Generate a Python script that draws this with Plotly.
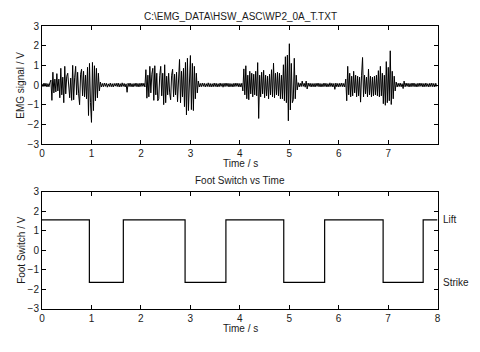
import plotly.graph_objects as go

# ---------------- data ----------------
SAMPLE_STEP = 0.02  # seconds per EMG sample

emg_values = [
    # 0.00 - 0.48
    0.06, -0.08, 0.10, -0.07, 0.09, -0.10, 0.07, -0.09, 0.12, 0.25, -0.78, 0.65, -0.40,
    0.30, -0.35, 0.58, -0.30, 0.30, -0.65, 0.85, -0.50, 0.40, -0.90, 0.95, -0.45,
    # 0.50 - 0.98
    0.45, 0.60, -0.40, -0.65, 0.35, -0.78, 1.00, -0.75, 0.40, 0.95, -0.50, 0.65, -0.45,
    -1.00, 0.55, 0.80, -0.55, 0.70, -0.60, 0.50, -0.70, 0.90, -1.55, 1.10, -0.90,
    # 1.00 - 1.48
    -1.90, 1.15, -1.30, 0.98, -0.80, 0.85, -0.65, 0.60, -0.30, 0.15, -0.10, 0.08, -0.09,
    0.10, -0.07, 0.09, -0.11, 0.06, -0.08, 0.10, -0.09, 0.07, -0.10, 0.08, -0.06,
    # 1.50 - 1.98
    0.09, -0.08, 0.10, -0.10, 0.07, -0.09, 0.11, -0.07, 0.08, -0.10, 0.06, -0.37, 0.09,
    -0.08, 0.10, -0.09, 0.07, -0.10, 0.08, -0.07, 0.10, -0.09, 0.08, -0.10, 0.09,
    # 2.00 - 2.48
    -0.08, 0.10, -0.07, 0.09, -0.10, 0.78, -0.67, 0.50, -0.60, 0.95, -0.40, 0.55, 0.85,
    -0.78, 0.98, -0.50, 0.60, -0.80, -0.70, 0.50, 0.95, -0.55, 0.60, -1.00, 1.03,
    # 2.50 - 2.98
    -0.90, 0.45, -0.50, 0.60, -0.40, -0.75, 0.50, 0.80, -0.60, 0.55, -0.50, 0.65, -0.85,
    0.60, 1.30, -0.90, 0.70, -0.60, 0.85, -1.10, 1.15, -1.52, 1.36, -1.30, 0.90,
    # 3.00 - 3.48
    1.50, -1.25, 1.10, -1.30, 0.95, -0.70, 0.60, -0.40, 0.20, -0.10, 0.08, -0.09, 0.10,
    -0.07, 0.09, -0.10, 0.07, -0.08, 0.11, -0.09, 0.08, -0.10, 0.07, -0.09, 0.10,
    # 3.50 - 3.98
    -0.08, 0.09, -0.10, 0.07, -0.09, 0.10, -0.07, 0.08, -0.11, 0.09, -0.08, 0.10, -0.07,
    0.09, -0.10, 0.08, -0.09, 0.07, -0.10, 0.09, -0.08, 0.10, -0.07, 0.09, -0.10,
    # 4.00 - 4.48
    0.08, -0.10, 0.09, -0.30, 0.82, -0.50, 0.98, -0.70, 0.50, -0.75, 0.70, -0.45, 0.60,
    -0.60, 0.55, -0.50, 0.70, -0.55, 1.14, -1.70, 0.50, -0.60, 0.65, -0.45, 0.75,
    # 4.50 - 4.98
    -0.65, 0.50, -0.55, 0.45, -0.70, 0.55, -0.50, 0.78, -0.60, 1.11, -0.65, 0.60, -0.50,
    0.65, -0.55, 0.60, -0.70, 0.50, -0.70, 1.03, -0.80, 1.44, -0.90, 1.52, -1.82,
    # 5.00 - 5.48
    2.10, -1.27, 1.10, -0.90, -0.75, 1.36, -0.70, 0.50, -0.25, 0.12, -0.10, 0.09, -0.08,
    0.20, -0.07, 0.09, -0.11, 0.20, -0.20, 0.10, -0.07, 0.09, -0.10, 0.08, -0.09,
    # 5.50 - 5.98
    0.08, -0.10, 0.09, -0.07, 0.10, -0.09, 0.08, -0.10, 0.07, -0.09, 0.10, -0.08, 0.09,
    -0.10, 0.07, -0.09, 0.11, -0.08, 0.09, -0.10, 0.08, -0.22, 0.10, -0.09, 0.08,
    # 6.00 - 6.48
    -0.10, 0.09, -0.08, 0.10, -0.09, 0.08, -0.10, 0.30, -0.80, 0.95, -0.50, 0.60, -0.60,
    0.45, -0.55, 0.70, -0.40, 0.50, -0.60, 0.45, -0.55, 0.40, -0.87, 0.50, 1.40,
    # 6.50 - 6.98
    -0.60, 0.50, -0.45, 0.40, -0.60, 0.81, -0.50, 0.45, -0.60, 0.40, -0.55, 0.45, -0.50,
    0.50, -0.55, 0.73, -0.60, 0.95, -0.55, 0.60, -0.95, 0.50, -1.03, 1.19, -0.90,
    # 7.00 - 7.48
    0.90, -0.80, 1.74, -0.99, 0.70, -0.70, 0.45, -0.30, 0.15, -0.10, 0.09, -0.08, 0.10,
    -0.09, 0.07, -0.18, 0.20, -0.09, 0.10, -0.07, 0.09, -0.10, 0.08, -0.09, 0.10,
    # 7.50 - 7.98
    -0.08, 0.10, -0.09, 0.07, -0.10, 0.09, -0.08, 0.10, -0.07, 0.09, -0.10, 0.08, -0.09,
    0.10, -0.08, 0.07, -0.10, 0.09, -0.08, 0.10, -0.09, 0.08, -0.10, 0.09, -0.08,
]
emg_time = [i * SAMPLE_STEP for i in range(len(emg_values))]

switch_time = [0.0, 0.958, 1.645, 2.894, 3.72, 4.89, 5.717, 6.90, 7.71, 8.0]
switch_level = [1.55, -1.65, 1.55, -1.65, 1.55, -1.65, 1.55, -1.65, 1.55, 1.55]

LIFT_LEVEL = 1.55
STRIKE_LEVEL = -1.65

x_ticks_top = [0, 1, 2, 3, 4, 5, 6, 7]
x_ticks_bottom = [0, 1, 2, 3, 4, 5, 6, 7, 8]
y_ticks = [-3, -2, -1, 0, 1, 2, 3]

title_top = "C:\\EMG_DATA\\HSW_ASC\\WP2_0A_T.TXT"
title_bottom = "Foot Switch vs Time"

# ---------------- figure ----------------
W, H = 480, 352
FONT = "Liberation Sans, Arial, sans-serif"
TXT = "#1a1a1a"

def px(v):
    return v / W

def py(v):
    return 1 - v / H

fig = go.Figure()
fig.add_trace(go.Scatter(x=emg_time, y=emg_values, mode="lines",
                         line=dict(color="black", width=1), xaxis="x", yaxis="y",
                         showlegend=False, hoverinfo="skip"))
fig.add_trace(go.Scatter(x=switch_time, y=switch_level, mode="lines",
                         line=dict(color="black", width=1.2, shape="hv"),
                         xaxis="x2", yaxis="y2", showlegend=False, hoverinfo="skip"))

axis_common = dict(showline=True, linecolor="black", linewidth=1, mirror="ticks",
                   ticks="inside", ticklen=4, tickcolor="black", showgrid=False,
                   zeroline=False, tickfont=dict(family=FONT, size=10, color=TXT))

xdom = [px(39.5), px(440)]
fig.update_layout(
    width=W, height=H, margin=dict(l=0, r=0, t=0, b=0),
    paper_bgcolor="white", plot_bgcolor="white", showlegend=False,
    xaxis=dict(domain=xdom, range=[0, 7.995], tickvals=x_ticks_top, anchor="y",
               **axis_common),
    yaxis=dict(domain=[py(143.5), py(21.7)], range=[-3, 3], tickvals=y_ticks,
               anchor="x", **axis_common),
    xaxis2=dict(domain=xdom, range=[0, 8], tickvals=x_ticks_bottom, anchor="y2",
                **axis_common),
    yaxis2=dict(domain=[py(313.5), py(192.7)], range=[-3, 3], tickvals=y_ticks,
                anchor="x2", **axis_common),
)

def label(text, x, y, angle=0, xanchor="center"):
    fig.add_annotation(text=text, xref="paper", yref="paper", x=px(x), y=py(y),
                       showarrow=False, textangle=angle, xanchor=xanchor, yanchor="middle",
                       font=dict(family=FONT, size=10, color=TXT))

label(title_top, 240, 11.5)
label("Time / s", 240, 164)
label(title_bottom, 240, 181)
label("Time / s", 240, 333.5)
label("EMG signal / V", 18, 82.5, angle=-90)
label("Foot Switch / V", 18, 253, angle=-90)

for txt, lvl in [("Lift", LIFT_LEVEL), ("Strike", STRIKE_LEVEL)]:
    fig.add_annotation(text=txt, xref="x2 domain", yref="y2", x=1.0, y=lvl,
                       xshift=3, showarrow=False, xanchor="left", yanchor="middle",
                       font=dict(family=FONT, size=10, color=TXT))

fig.write_html("out.html")
